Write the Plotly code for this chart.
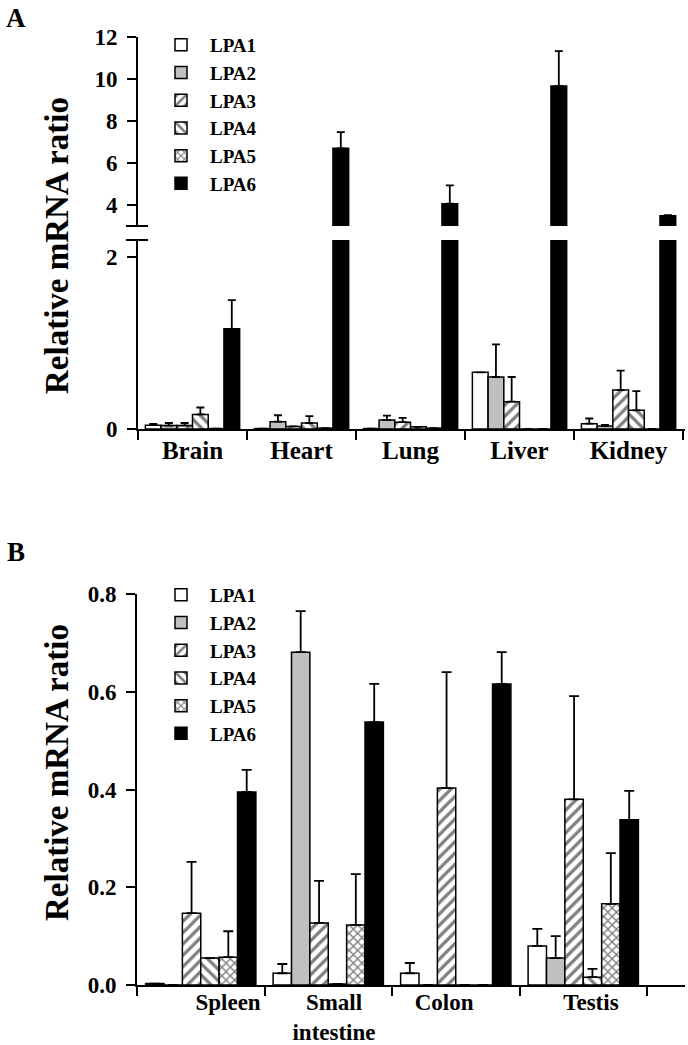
import plotly.graph_objects as go

# ---------------- Data ----------------
series = ["LPA1", "LPA2", "LPA3", "LPA4", "LPA5", "LPA6"]

tissues_a = ["Brain", "Heart", "Lung", "Liver", "Kidney"]
a_lpa1 = [0.045, 0.005, 0.005, 0.66, 0.062]
a_lpa1_err = [0.015, None, None, None, 0.06]
a_lpa2 = [0.04, 0.085, 0.105, 0.605, 0.035]
a_lpa2_err = [0.03, 0.075, 0.05, 0.38, 0.012]
a_lpa3 = [0.04, 0.03, 0.08, 0.318, 0.453]
a_lpa3_err = [0.03, None, 0.05, 0.287, 0.227]
a_lpa4 = [0.17, 0.07, 0.025, 0.0, 0.217]
a_lpa4_err = [0.08, 0.08, None, None, 0.223]
a_lpa5 = [0.005, 0.01, 0.01, 0.0, 0.0]
a_lpa5_err = [None, None, None, None, None]
a_lpa6 = [1.166, 6.69, 4.06, 9.65, 3.49]
a_lpa6_err = [0.334, 0.77, 0.87, 1.66, 0.03]

tissues_b = ["Spleen", "Small<br>intestine", "Colon", "Testis"]
b_label_pos = [0.214, 1.045, 1.908, 3.06]
b_lpa1 = [0.003, 0.024, 0.024, 0.08]
b_lpa1_err = [None, 0.019, 0.021, 0.035]
b_lpa2 = [0.0, 0.681, 0.0, 0.055]
b_lpa2_err = [None, 0.084, None, 0.045]
b_lpa3 = [0.147, 0.127, 0.403, 0.38]
b_lpa3_err = [0.105, 0.086, 0.237, 0.211]
b_lpa4 = [0.055, 0.002, 0.0, 0.016]
b_lpa4_err = [0.0, None, None, 0.017]
b_lpa5 = [0.057, 0.123, 0.0, 0.166]
b_lpa5_err = [0.053, 0.104, None, 0.104]
b_lpa6 = [0.395, 0.538, 0.616, 0.338]
b_lpa6_err = [0.045, 0.078, 0.065, 0.059]

a_upper_ticks = [4, 6, 8, 10, 12]
a_lower_ticks = [0, 2]
b_ticks = [0.0, 0.2, 0.4, 0.6, 0.8]

# ---------------- Styles ----------------
FONT = "Liberation Serif"
styles = {
    "LPA1": dict(color="white"),
    "LPA2": dict(color="#c0c0c0"),
    "LPA3": dict(color="white", pattern=dict(shape="/", fgcolor="black", bgcolor="white", size=8, solidity=0.4)),
    "LPA4": dict(color="white", pattern=dict(shape="\\", fgcolor="black", bgcolor="white", size=8, solidity=0.4)),
    "LPA5": dict(color="white", pattern=dict(shape="x", fgcolor="black", bgcolor="white", size=6, solidity=0.42)),
    "LPA6": dict(color="black"),
}

a_vals = [a_lpa1, a_lpa2, a_lpa3, a_lpa4, a_lpa5, a_lpa6]
a_errs = [a_lpa1_err, a_lpa2_err, a_lpa3_err, a_lpa4_err, a_lpa5_err, a_lpa6_err]
b_vals = [b_lpa1, b_lpa2, b_lpa3, b_lpa4, b_lpa5, b_lpa6]
b_errs = [b_lpa1_err, b_lpa2_err, b_lpa3_err, b_lpa4_err, b_lpa5_err, b_lpa6_err]

xa = list(range(len(tissues_a)))
xb = list(range(len(tissues_b)))


def err(arr, w):
    return dict(type="data", symmetric=False, array=arr,
                arrayminus=[0 if v is not None else None for v in arr],
                color="black", thickness=1.8, width=w)


def make_marker(name):
    st = styles[name]
    marker = dict(color=st["color"], line=dict(color="black", width=1.5))
    if "pattern" in st:
        marker["pattern"] = st["pattern"]
    return marker


fig = go.Figure()
for name, v, e in zip(series, a_vals, a_errs):
    fig.add_trace(go.Bar(x=xa, y=v, name=name, marker=make_marker(name), error_y=err(e, 4),
                         xaxis="x", yaxis="y", legend="legend", showlegend=True))
    fig.add_trace(go.Bar(x=xa, y=v, name=name, marker=make_marker(name), error_y=err(e, 4),
                         xaxis="x2", yaxis="y2", showlegend=False))

for name, v, e in zip(series, b_vals, b_errs):
    fig.add_trace(go.Bar(x=xb, y=v, name=name, marker=make_marker(name), error_y=err(e, 5),
                         xaxis="x3", yaxis="y3", legend="legend2", showlegend=True))

H, W = 1045, 688


def ydom(top_px, bot_px):
    return [1 - bot_px / H, 1 - top_px / H]


tickfont = dict(family=FONT, size=23, color="black", weight="bold")
catfont = dict(family=FONT, size=25, color="black", weight="bold")
catfont_b = dict(family=FONT, size=23, color="black", weight="bold")
legfont = dict(family=FONT, size=19, color="black", weight="bold")
axis_common = dict(showline=True, linecolor="black", linewidth=2, showgrid=False, automargin=False,
                   zeroline=False, ticks="outside", ticklen=9, tickwidth=2, tickcolor="black")

fig.update_layout(
    width=W, height=H,
    margin=dict(l=0, r=0, t=0, b=0, autoexpand=False),
    paper_bgcolor="white", plot_bgcolor="white",
    barmode="group", bargap=0.135, bargroupgap=0,
    font=dict(family=FONT, color="black"),
    xaxis=dict(domain=[138 / W, 685 / W], range=[-0.5, 4.518], anchor="y", automargin=False,
               showline=True, linecolor="black", linewidth=2, showgrid=False, zeroline=False,
               tickmode="array", tickvals=xa, ticktext=tissues_a, ticks="",
               tickfont=catfont, ticklabelstandoff=-2,
               minor=dict(tickmode="array", tickvals=[i - 0.5 for i in range(len(tissues_a) + 1)],
                          ticks="outside", ticklen=9, tickwidth=2, tickcolor="black", showgrid=False)),
    yaxis=dict(domain=ydom(240, 429), range=[0, 2.2], anchor="x",
               tickmode="array", tickvals=a_lower_ticks, tickfont=tickfont,
               ticklabelstandoff=5, **axis_common),
    xaxis2=dict(domain=[138 / W, 685 / W], range=[-0.5, 4.518], anchor="y2", matches="x",
                visible=False, automargin=False),
    yaxis2=dict(domain=ydom(36.5, 226), range=[3, 12], anchor="x2",
                tickmode="array", tickvals=a_upper_ticks, tickfont=tickfont,
                ticklabelstandoff=5, **axis_common),
    xaxis3=dict(domain=[137 / W, 685 / W], range=[-0.5, 3.798], anchor="y3", automargin=False,
                showline=True, linecolor="black", linewidth=2, showgrid=False, zeroline=False,
                tickmode="array", tickvals=b_label_pos, ticktext=tissues_b, ticks="",
                tickfont=catfont_b, ticklabelstandoff=-5,
                minor=dict(tickmode="array", tickvals=[i - 0.5 for i in range(len(tissues_b) + 1)],
                           ticks="outside", ticklen=9, tickwidth=2, tickcolor="black", showgrid=False)),
    yaxis3=dict(domain=ydom(594, 985), range=[0, 0.8], anchor="x3",
                tickmode="array", tickvals=b_ticks, tickformat=".1f", tickfont=tickfont,
                ticklabelstandoff=5, **axis_common),
    legend=dict(x=152 / W, y=1 - 26 / H, xanchor="left", yanchor="top",
                font=legfont, bgcolor="rgba(0,0,0,0)", tracegroupgap=0, itemwidth=48),
    legend2=dict(x=152 / W, y=1 - 576 / H, xanchor="left", yanchor="top",
                 font=legfont, bgcolor="rgba(0,0,0,0)", tracegroupgap=0, itemwidth=48),
)

# Axis break marks
for ypx in (226, 240):
    fig.add_shape(type="line", xref="paper", yref="paper",
                  x0=126 / W, x1=148 / W, y0=1 - ypx / H, y1=1 - ypx / H,
                  line=dict(color="black", width=2))

# Titles and panel letters
for yc in (246, 773):
    fig.add_annotation(text="Relative mRNA ratio", xref="paper", yref="paper",
                       x=57 / W, y=1 - yc / H, textangle=-90, showarrow=False,
                       xanchor="center", yanchor="middle",
                       font=dict(family=FONT, size=33, color="black", weight="bold"))
for letter, yc in (("A", 18), ("B", 552)):
    fig.add_annotation(text=letter, xref="paper", yref="paper",
                       x=16 / W, y=1 - yc / H, showarrow=False,
                       xanchor="center", yanchor="middle",
                       font=dict(family=FONT, size=27, color="black", weight="bold"))

fig.write_html(
    "out.html",
    config={"displayModeBar": False},
    post_script="document.documentElement.style.margin='0';document.body.style.margin='0';"
                "document.body.style.overflow='hidden';",
)
